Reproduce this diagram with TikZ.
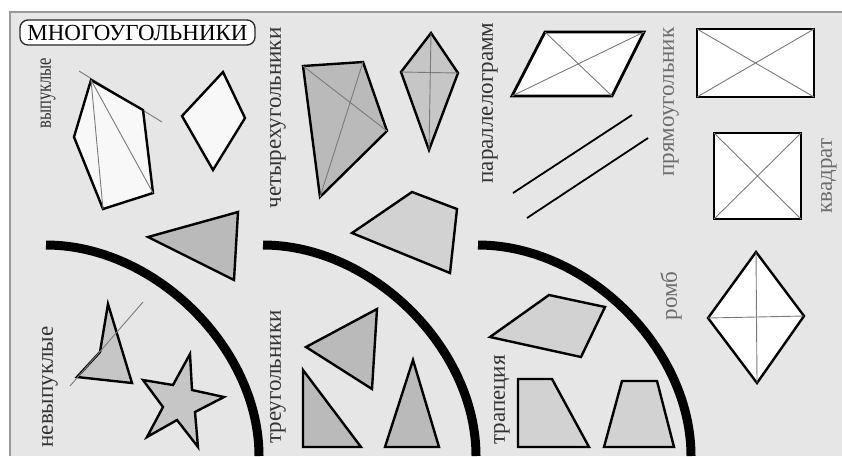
\documentclass[tikz,border=0pt]{standalone}
\usepackage{fontspec}
\setmainfont{Liberation Serif}
\definecolor{panel}{HTML}{E6E6E6}
\definecolor{panelborder}{HTML}{9A9A9A}
\definecolor{labdark}{HTML}{333333}
\definecolor{lablight}{HTML}{6C6C6C}
\definecolor{diaggray}{HTML}{7A7A7A}
\definecolor{fwhite}{HTML}{F8F8F8}
\definecolor{fmid}{HTML}{BABABA}
\definecolor{fgray}{HTML}{C6C6C6}
\definecolor{flight}{HTML}{D2D2D2}
\begin{document}
\begin{tikzpicture}[x=1pt,y=-1pt,
  poly/.style={draw=black, line width=2.4pt, line join=miter},
  diag/.style={draw=diaggray, line width=0.9pt},
  arcline/.style={draw=black, line width=9pt},
  lab/.style={font=\fontsize{23}{26}\selectfont, text=labdark, inner sep=0pt, rotate=90},
  labl/.style={lab, text=lablight}]
\useasboundingbox (0,0) rectangle (842,456);
\fill[white] (0,0) rectangle (842,456);
\fill[panel] (10,12) rectangle (842,456);
\draw[panelborder, line width=2pt] (10,456) -- (10,12) -- (842,12);

% title
\node[draw=black!85, fill=white, rounded corners=8pt, line width=1.3pt,
      minimum width=235pt, minimum height=25pt, inner sep=0pt,
      font=\fontsize{23}{26}\selectfont] (title) at (137.5,32.5) {МНОГОУГОЛЬНИКИ};

% labels
\node[lab, font=\fontsize{22}{25}\selectfont] (lvyp) at (48,93) {\scalebox{0.75}[1]{выпуклые}};
\node[lab] (lnevyp) at (50,387) {невыпуклые};
\node[lab] (lchet) at (278,118) {четырехугольники};
\node[lab] (ltreug) at (278,377) {треугольники};
\node[lab] (lparal) at (490,103) {параллелограмм};
\node[lab] (ltrap) at (502,400) {трапеция};
\node[labl] (lpryam) at (671,102) {прямоугольник};
\node[labl] (lkvad) at (829,176) {квадрат};
\node[labl] (lromb) at (671,296) {ромб};

% arcs
\draw[arcline] (46,245) .. controls (154.6,245) and (259,348) .. (259,456);
\draw[arcline] (263,245) .. controls (371.6,245) and (476,348) .. (476,456);
\draw[arcline] (478,245) .. controls (586.6,245) and (691,348) .. (691,456);

% convex pentagon
\coordinate (a1) at (91,80); \coordinate (a2) at (143,110); \coordinate (a3) at (153,193);
\coordinate (a4) at (103,209); \coordinate (a5) at (74,137);
\coordinate (t1) at (79,71); \coordinate (t2) at (162,122);
\draw[diag] (t1) -- (t2);
\draw[poly, fill=fwhite] (a1) -- (a2) -- (a3) -- (a4) -- (a5) -- cycle;
\draw[diag] (a1) -- (a4) (a1) -- (a3);

% small rhombus
\coordinate (b1) at (223,72); \coordinate (b2) at (245,118); \coordinate (b3) at (213,170); \coordinate (b4) at (182,116);
\draw[poly, fill=fwhite] (b1) -- (b2) -- (b3) -- (b4) -- cycle;

% triangle
\coordinate (c1) at (148,237); \coordinate (c2) at (238,212); \coordinate (c3) at (234,280);
\draw[poly, fill=fmid] (c1) -- (c2) -- (c3) -- cycle;

% quadrilateral
\coordinate (q1) at (303,66); \coordinate (q2) at (363,62); \coordinate (q3) at (387,131); \coordinate (q4) at (320,197);
\draw[poly, fill=fmid] (q1) -- (q2) -- (q3) -- (q4) -- cycle;
\draw[diag] (q1) -- (q3) (q2) -- (q4);

% kite
\coordinate (k1) at (431,33); \coordinate (k2) at (458,73); \coordinate (k3) at (429,150); \coordinate (k4) at (401,72);
\draw[poly, fill=fgray] (k1) -- (k2) -- (k3) -- (k4) -- cycle;
\draw[diag] (k1) -- (k3) (k4) -- (k2);

% lower quad
\coordinate (m1) at (352,233); \coordinate (m2) at (412,192); \coordinate (m3) at (457,209); \coordinate (m4) at (450,273);
\draw[poly, fill=flight] (m1) -- (m2) -- (m3) -- (m4) -- cycle;

% parallelogram
\coordinate (p1) at (545,32); \coordinate (p2) at (644,32); \coordinate (p3) at (612,96); \coordinate (p4) at (512,96);
\draw[poly, line width=2.8pt, fill=white] (p1) -- (p2) -- (p3) -- (p4) -- cycle;
\draw[diag] (p1) -- (p3) (p2) -- (p4);

% parallel lines
\coordinate (l1a) at (513,193); \coordinate (l1b) at (632,115);
\coordinate (l2a) at (527,218); \coordinate (l2b) at (648,138);
\draw[black, line width=1.8pt] (l1a) -- (l1b) (l2a) -- (l2b);

% rectangle
\coordinate (r1) at (697,29); \coordinate (r2) at (814,29); \coordinate (r3) at (814,97); \coordinate (r4) at (697,97);
\draw[poly, line width=2.8pt, fill=white] (r1) -- (r2) -- (r3) -- (r4) -- cycle;
\draw[diag] (r1) -- (r3) (r2) -- (r4);

% square
\coordinate (s1) at (714,133); \coordinate (s2) at (801,133); \coordinate (s3) at (801,219); \coordinate (s4) at (714,219);
\draw[poly, line width=2.8pt, fill=white] (s1) -- (s2) -- (s3) -- (s4) -- cycle;
\draw[diag] (s1) -- (s3) (s2) -- (s4);

% rhombus
\coordinate (h1) at (756,252); \coordinate (h2) at (804,316); \coordinate (h3) at (757,383); \coordinate (h4) at (708,318);
\draw[poly, fill=white] (h1) -- (h2) -- (h3) -- (h4) -- cycle;
\draw[diag] (h1) -- (h3) (h4) -- (h2);

% trapezoids
\coordinate (z1) at (490,337); \coordinate (z2) at (549,295); \coordinate (z3) at (605,307); \coordinate (z4) at (581,357);
\draw[poly, fill=flight] (z1) -- (z2) -- (z3) -- (z4) -- cycle;
\coordinate (u1) at (518,379); \coordinate (u2) at (552,379); \coordinate (u3) at (589,447); \coordinate (u4) at (518,447);
\draw[poly, fill=flight] (u1) -- (u2) -- (u3) -- (u4) -- cycle;
\coordinate (v1) at (622,381); \coordinate (v2) at (657,381); \coordinate (v3) at (674,447); \coordinate (v4) at (604,447);
\draw[poly, fill=flight] (v1) -- (v2) -- (v3) -- (v4) -- cycle;

% triangles
\coordinate (e1) at (306,347); \coordinate (e2) at (377,309); \coordinate (e3) at (372,389);
\draw[poly, fill=fmid] (e1) -- (e2) -- (e3) -- cycle;
\coordinate (f1) at (303,370); \coordinate (f2) at (303,447); \coordinate (f3) at (361,447);
\draw[poly, fill=fmid] (f1) -- (f2) -- (f3) -- cycle;
\coordinate (g1) at (413,360); \coordinate (g2) at (439,447); \coordinate (g3) at (385,447);
\draw[poly, fill=fmid] (g1) -- (g2) -- (g3) -- cycle;

% non-convex quadrilateral
\coordinate (n1) at (108,304); \coordinate (n2) at (132,383); \coordinate (n3) at (77,377); \coordinate (n4) at (100,352);
\draw[poly, fill=fgray] (n1) -- (n2) -- (n3) -- (n4) -- cycle;
\coordinate (nl1) at (70,386); \coordinate (nl2) at (143,302);
\draw[diag] (nl1) -- (nl2);

% star
\coordinate (st1) at (190,354); \coordinate (st2) at (173,385); \coordinate (st3) at (143,380);
\coordinate (st4) at (163,407); \coordinate (st5) at (147,437); \coordinate (st6) at (177,420);
\coordinate (st7) at (198,447); \coordinate (st8) at (195,412); \coordinate (st9) at (224,397);
\coordinate (st10) at (192,390);
\draw[poly, fill=fgray] (st1) -- (st2) -- (st3) -- (st4) -- (st5) -- (st6) -- (st7) -- (st8) -- (st9) -- (st10) -- cycle;
\end{tikzpicture}
\end{document}
